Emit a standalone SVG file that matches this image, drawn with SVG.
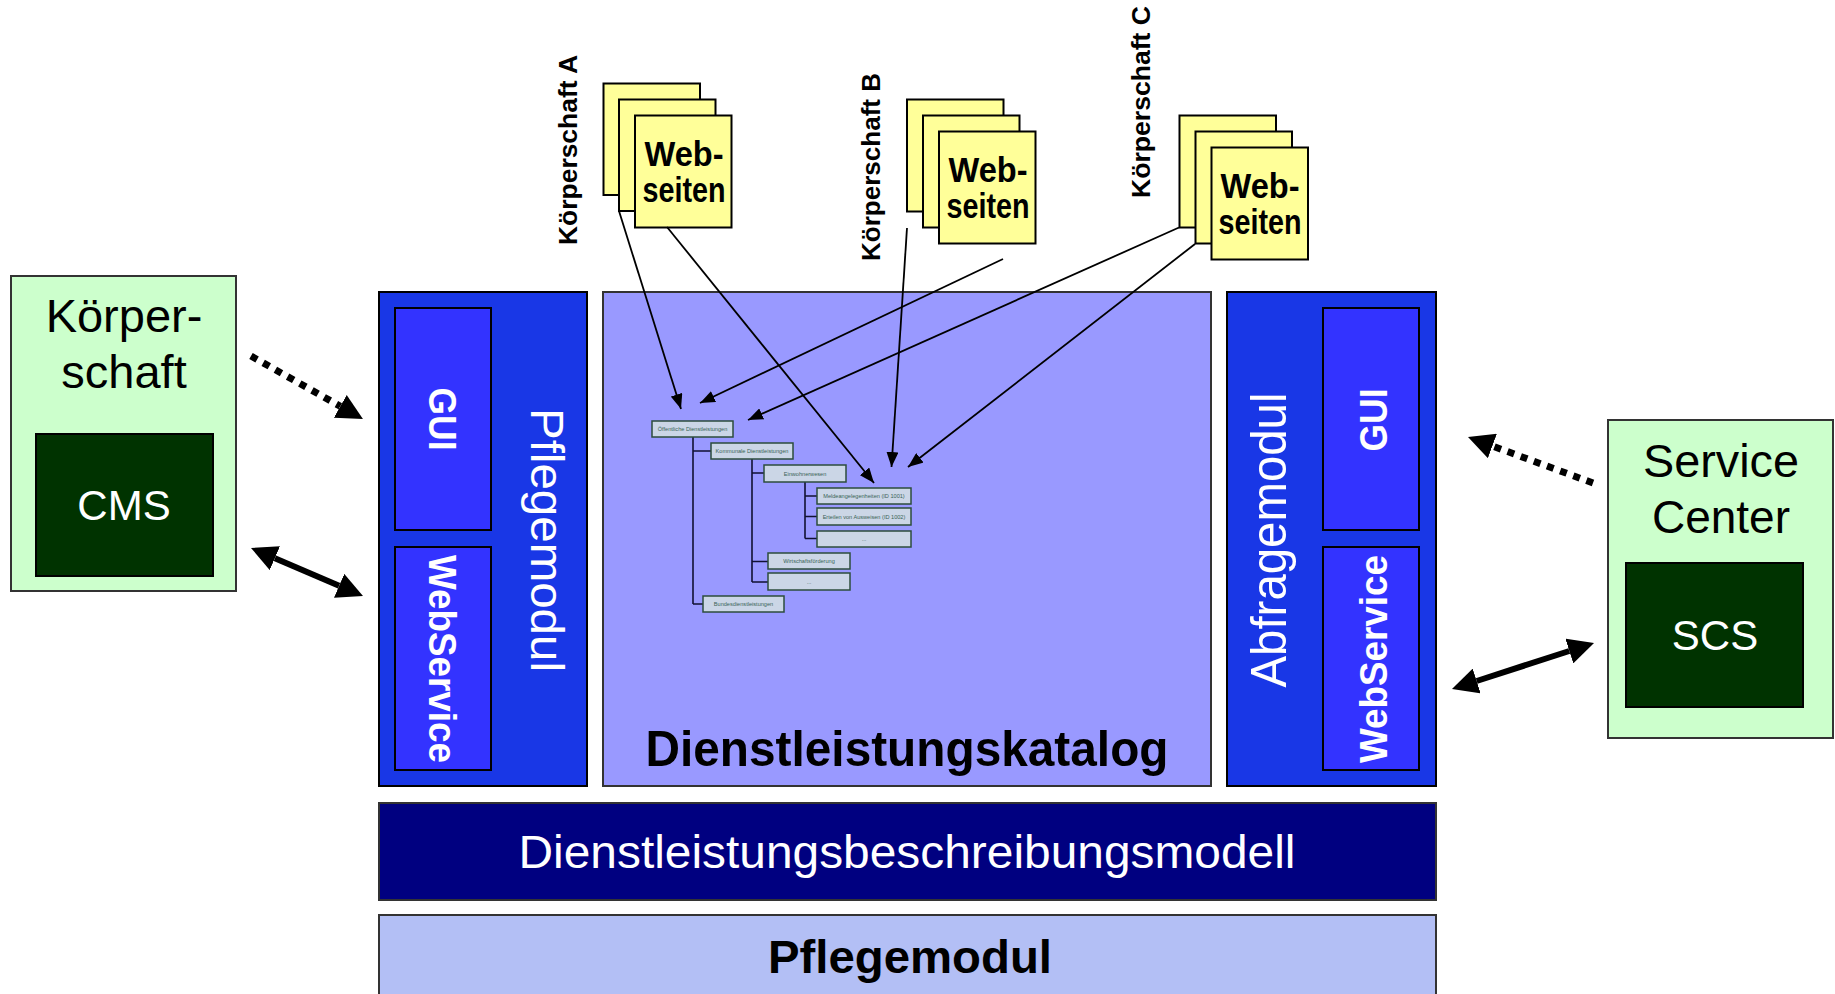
<svg xmlns="http://www.w3.org/2000/svg" width="1835" height="994" viewBox="0 0 1835 994">
  <defs>
    <style>
      .sans { font-family: "Liberation Sans", Arial, sans-serif; }
      .green { fill: #ccffcc; stroke: #333333; stroke-width: 2; }
      .dark { fill: #003300; stroke: #000000; stroke-width: 2; }
      .mod { fill: #1937e6; stroke: #000000; stroke-width: 2; }
      .sub { fill: #3333ff; stroke: #000000; stroke-width: 2; }
      .cat { fill: #9999ff; stroke: #333333; stroke-width: 2; }
      .navy { fill: #000080; stroke: #333333; stroke-width: 2; }
      .base { fill: #b3bff5; stroke: #333333; stroke-width: 2; }
      .sheet { fill: #ffff99; stroke: #000000; stroke-width: 2; }
      .tb { fill: #cbd6e6; stroke: #2c4c3c; stroke-width: 1.5; }
      .tt { font-family: "Liberation Sans", Arial, sans-serif; font-size: 5.6px; fill: #3a6456; text-anchor: middle; }
      .tl { stroke: #111133; stroke-width: 1.6; fill: none; }
      .wt { fill: #ffffff; }
      .bk { fill: #000000; }
      .thin { stroke: #000000; stroke-width: 1.8; fill: none; marker-end: url(#headS); }
      .thick { stroke: #000000; stroke-width: 6; fill: none; }
      .dotted { stroke: #000000; stroke-width: 7; fill: none; stroke-dasharray: 7 7; }
    </style>
    <marker id="headS" viewBox="0 0 15 12" refX="15" refY="6" markerWidth="15" markerHeight="12" markerUnits="userSpaceOnUse" orient="auto">
      <path d="M0,0 L15,6 L0,12 z" fill="#000000"/>
    </marker>
    <marker id="headL" viewBox="0 0 26 26" refX="0" refY="13" markerWidth="26" markerHeight="26" markerUnits="userSpaceOnUse" orient="auto-start-reverse">
      <path d="M0,0 L26,13 L0,26 z" fill="#000000"/>
    </marker>
  </defs>

  <rect width="1835" height="994" fill="#ffffff"/>

  <!-- Körperschaft with its CMS -->
  <g id="koerperschaft">
    <rect class="green" x="11" y="276" width="225" height="315"/>
    <text class="sans bk" x="124" y="332" font-size="47" text-anchor="middle">Körper-</text>
    <text class="sans bk" x="124" y="388" font-size="47" text-anchor="middle">schaft</text>
    <rect class="dark" x="36" y="434" width="177" height="142"/>
    <text class="sans wt" x="124" y="520" font-size="42" text-anchor="middle">CMS</text>
  </g>

  <!-- Service Center with its SCS -->
  <g id="service-center">
    <rect class="green" x="1608" y="420" width="225" height="318"/>
    <text class="sans bk" x="1721" y="477" font-size="46" text-anchor="middle" textLength="156" lengthAdjust="spacingAndGlyphs">Service</text>
    <text class="sans bk" x="1721" y="533" font-size="46" text-anchor="middle">Center</text>
    <rect class="dark" x="1626" y="563" width="177" height="144"/>
    <text class="sans wt" x="1715" y="650" font-size="42" text-anchor="middle">SCS</text>
  </g>

  <!-- Pflegemodul (left column) -->
  <g id="pflegemodul-links">
    <rect class="mod" x="379" y="292" width="208" height="494"/>
    <rect class="sub" x="395" y="308" width="96" height="222"/>
    <rect class="sub" x="395" y="547" width="96" height="223"/>
    <text class="sans wt" transform="translate(429,419) rotate(90)" font-size="38" font-weight="bold" text-anchor="middle" textLength="63" lengthAdjust="spacingAndGlyphs">GUI</text>
    <text class="sans wt" transform="translate(429,659) rotate(90)" font-size="38" font-weight="bold" text-anchor="middle" textLength="208" lengthAdjust="spacingAndGlyphs">WebService</text>
    <text class="sans wt" transform="translate(531,540) rotate(90)" font-size="47" text-anchor="middle" textLength="264" lengthAdjust="spacingAndGlyphs">Pflegemodul</text>
  </g>

  <!-- Abfragemodul (right column) -->
  <g id="abfragemodul">
    <rect class="mod" x="1227" y="292" width="209" height="494"/>
    <rect class="sub" x="1323" y="308" width="96" height="222"/>
    <rect class="sub" x="1323" y="547" width="96" height="223"/>
    <text class="sans wt" transform="translate(1387,420) rotate(-90)" font-size="38" font-weight="bold" text-anchor="middle" textLength="63" lengthAdjust="spacingAndGlyphs">GUI</text>
    <text class="sans wt" transform="translate(1387,659) rotate(-90)" font-size="38" font-weight="bold" text-anchor="middle" textLength="208" lengthAdjust="spacingAndGlyphs">WebService</text>
    <text class="sans wt" transform="translate(1286,540) rotate(-90)" font-size="50" text-anchor="middle" textLength="295" lengthAdjust="spacingAndGlyphs">Abfragemodul</text>
  </g>

  <!-- Dienstleistungskatalog with service tree -->
  <g id="dienstleistungskatalog">
    <rect class="cat" x="603" y="292" width="608" height="494"/>
    <text class="sans bk" x="907" y="766" font-size="50" font-weight="bold" text-anchor="middle" textLength="523" lengthAdjust="spacingAndGlyphs">Dienstleistungskatalog</text>
  </g>

  <g id="katalog-baum">
    <path class="tl" d="M693,437 V604 M693,451 H711 M693,604 H703"/>
    <path class="tl" d="M752,459 V582 M752,473 H764 M752,561.5 H768 M752,582 H768"/>
    <path class="tl" d="M805,482 V538.5 M805,496 H817 M805,516.5 H817 M805,538.5 H817"/>
    <g id="baum-oeffentlich"><rect class="tb" x="652" y="421" width="81" height="16"/><text class="tt" x="692.5" y="431">Öffentliche Dienstleistungen</text></g>
    <g id="baum-kommunal"><rect class="tb" x="711" y="443" width="82" height="16"/><text class="tt" x="752" y="453">Kommunale Dienstleistungen</text></g>
    <g id="baum-einwohner"><rect class="tb" x="764" y="465" width="82" height="17"/><text class="tt" x="805" y="475.5">Einwohnerwesen</text></g>
    <g id="baum-melde"><rect class="tb" x="817" y="488" width="94" height="16"/><text class="tt" x="864" y="498">Meldeangelegenheiten (ID 1001)</text></g>
    <g id="baum-ausweis"><rect class="tb" x="817" y="508" width="94" height="17"/><text class="tt" x="864" y="518.5">Erteilen von Ausweisen (ID 1002)</text></g>
    <g id="baum-weitere-1"><rect class="tb" x="817" y="531" width="94" height="16"/><text class="tt" x="864" y="541">...</text></g>
    <g id="baum-wirtschaft"><rect class="tb" x="768" y="553" width="82" height="16"/><text class="tt" x="809" y="563">Wirtschaftsförderung</text></g>
    <g id="baum-weitere-2"><rect class="tb" x="768" y="573" width="82" height="17"/><text class="tt" x="809" y="583.5">...</text></g>
    <g id="baum-bund"><rect class="tb" x="703" y="596" width="81" height="16"/><text class="tt" x="743.5" y="606">Bundesdienstleistungen</text></g>
  </g>

  <!-- Lower layers -->
  <g id="beschreibungsmodell">
    <rect class="navy" x="379" y="803" width="1057" height="97"/>
    <text class="sans wt" x="907" y="868" font-size="47" text-anchor="middle" textLength="777" lengthAdjust="spacingAndGlyphs">Dienstleistungsbeschreibungsmodell</text>
  </g>
  <g id="pflegemodul-basis">
    <rect class="base" x="379" y="915" width="1057" height="90"/>
    <text class="sans bk" x="910" y="973" font-size="46" font-weight="bold" text-anchor="middle" textLength="284" lengthAdjust="spacingAndGlyphs">Pflegemodul</text>
  </g>

  <!-- Web pages of the three Körperschaften -->
  <g id="webseiten-a">
    <text class="sans bk" transform="translate(577,150) rotate(-90)" font-size="26" font-weight="bold" text-anchor="middle" textLength="190" lengthAdjust="spacingAndGlyphs">Körperschaft A</text>
    <rect class="sheet" x="603.5" y="83.5" width="96.5" height="111.5"/>
    <rect class="sheet" x="619" y="99.5" width="96.5" height="111.5"/>
    <rect class="sheet" x="635" y="115.5" width="96.5" height="112"/>
    <text class="sans bk" x="684" y="166" font-size="35" font-weight="bold" text-anchor="middle" textLength="79" lengthAdjust="spacingAndGlyphs">Web-</text>
    <text class="sans bk" x="684" y="202" font-size="35" font-weight="bold" text-anchor="middle" textLength="83" lengthAdjust="spacingAndGlyphs">seiten</text>
  </g>
  <g id="webseiten-b">
    <text class="sans bk" transform="translate(880,167) rotate(-90)" font-size="26" font-weight="bold" text-anchor="middle" textLength="188" lengthAdjust="spacingAndGlyphs">Körperschaft B</text>
    <rect class="sheet" x="907" y="99.5" width="96.5" height="112"/>
    <rect class="sheet" x="923" y="115.5" width="96.5" height="112"/>
    <rect class="sheet" x="939" y="131.5" width="96.5" height="112"/>
    <text class="sans bk" x="988" y="182" font-size="35" font-weight="bold" text-anchor="middle" textLength="79" lengthAdjust="spacingAndGlyphs">Web-</text>
    <text class="sans bk" x="988" y="218" font-size="35" font-weight="bold" text-anchor="middle" textLength="83" lengthAdjust="spacingAndGlyphs">seiten</text>
  </g>
  <g id="webseiten-c">
    <text class="sans bk" transform="translate(1150,102) rotate(-90)" font-size="26" font-weight="bold" text-anchor="middle" textLength="192" lengthAdjust="spacingAndGlyphs">Körperschaft C</text>
    <rect class="sheet" x="1179.5" y="115.5" width="96.5" height="112"/>
    <rect class="sheet" x="1195.5" y="131.5" width="96.5" height="112"/>
    <rect class="sheet" x="1211.5" y="147.5" width="96.5" height="112"/>
    <text class="sans bk" x="1260" y="198" font-size="35" font-weight="bold" text-anchor="middle" textLength="79" lengthAdjust="spacingAndGlyphs">Web-</text>
    <text class="sans bk" x="1260" y="234" font-size="35" font-weight="bold" text-anchor="middle" textLength="83" lengthAdjust="spacingAndGlyphs">seiten</text>
  </g>

  <!-- Connectors -->
  <g id="connectors">
    <path class="thin" d="M619,211 L681,409"/>
    <path class="thin" d="M667,227 L874,483"/>
    <path class="thin" d="M907,228 L891.5,467"/>
    <path class="thin" d="M1003,259 L700,403"/>
    <path class="thin" d="M1179,227.5 L748,420"/>
    <path class="thin" d="M1195,244 L908,467"/>

    <path class="dotted" d="M251,356 L340.3,406.3" marker-end="url(#headL)"/>
    <path class="thick" d="M274.9,558.2 L339.1,585.8" marker-start="url(#headL)" marker-end="url(#headL)"/>
    <path class="dotted" d="M1593,483 L1492.4,446" marker-end="url(#headL)"/>
    <path class="thick" d="M1476.7,681 L1569.3,651" marker-start="url(#headL)" marker-end="url(#headL)"/>
  </g>
</svg>
